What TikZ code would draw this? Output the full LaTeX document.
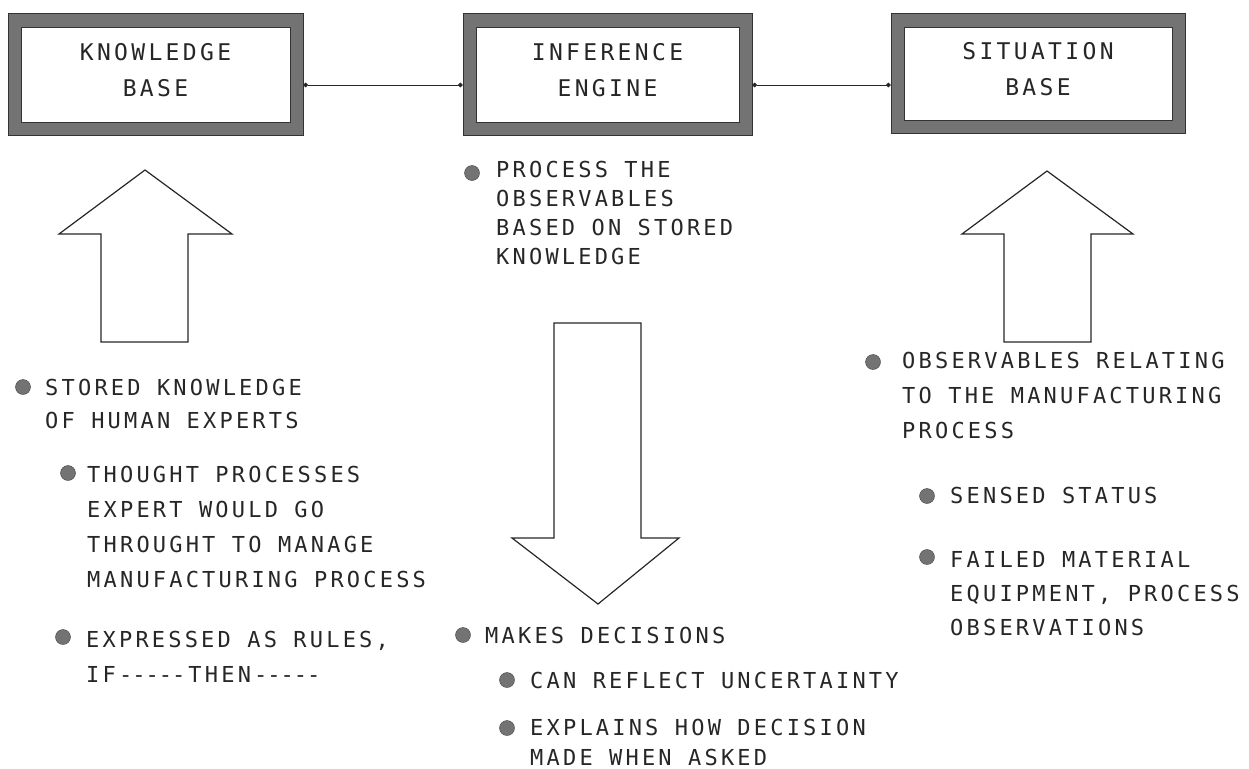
\documentclass[tikz,border=0pt]{standalone}
\usepackage{fontspec}
\newfontfamily\plotfont{DejaVu Sans Mono}[LetterSpace=14.5]
\usetikzlibrary{arrows.meta}

% several lines of plotter text, baselines #1 pt apart, first baseline at the node
\newcommand\textlines[2]{{\fontsize{22}{#1}\selectfont\begin{tabular}[t]{@{}l@{}}#2\end{tabular}}}
\newcommand\dashrun{-\kern0pt-\kern0pt-\kern0pt-\kern0pt-}

\tikzset{
  panel/.style={rectangle, inner sep=0pt, fill=black!55, draw=black!80, line width=0.8pt,
    align=center, text depth=8pt, text=black!85, font=\plotfont\fontsize{23}{36}\selectfont,
    path picture={\filldraw[fill=white, draw=black!80, line width=0.8pt]
      ([shift={(13pt,-14pt)}]path picture bounding box.north west) rectangle
      ([shift={(-13pt,13pt)}]path picture bounding box.south east);}},
  dot/.style={circle, inner sep=0pt, minimum size=15pt, fill=black!55, draw=black!75},
  txt/.style={anchor=base west, inner sep=0pt, text=black!85, font=\plotfont},
  link/.style={line width=0.8pt, black!85, {Circle[length=4.5pt]}-{Circle[length=4.5pt]}},
  blockarrow/.style={draw=black!85, line width=1.2pt, line join=miter}
}

\begin{document}
\begin{tikzpicture}[x=1pt, y=-1pt]
\useasboundingbox (0,0) rectangle (1249,768);

% the three units
\node[panel, minimum width=295pt, minimum height=122pt] (kb) at (155.5,74) {KNOWLEDGE\\BASE};
\node[panel, minimum width=289pt, minimum height=122pt] (ie) at (607.5,74) {INFERENCE\\ENGINE};
\node[panel, minimum width=294pt, minimum height=120pt] (sb) at (1038,73) {SITUATION\\BASE};

% links between the units
\draw[link] (kb.east |- 0,85) -- (ie.west |- 0,85);
\draw[link] (ie.east |- 0,85) -- (sb.west |- 0,85);

% block arrows
\draw[blockarrow] (145,170) -- (232,234) -- (188,234) -- (188,342) -- (101,342)
  -- (101,234) -- (59,234) -- cycle;
\draw[blockarrow] (1047,171) -- (1133,234) -- (1091,234) -- (1091,342) -- (1004,342)
  -- (1004,234) -- (962,234) -- cycle;
\draw[blockarrow] (554,323) -- (641,323) -- (641,538) -- (679,538) -- (598,604)
  -- (512,538) -- (554,538) -- cycle;

% inference engine notes
\node[dot] (d1) at (472,173) {};
\node[txt] (t1) at (496,177) {\textlines{29}{PROCESS THE\\OBSERVABLES\\BASED ON STORED\\KNOWLEDGE}};

% knowledge base notes
\node[dot] (d2) at (23,387) {};
\node[txt] (t2) at (45,395) {\textlines{33}{STORED KNOWLEDGE\\OF HUMAN EXPERTS}};
\node[dot] (d3) at (68,473) {};
\node[txt] (t3) at (87,482) {\textlines{35}{THOUGHT PROCESSES\\EXPERT WOULD GO\\THROUGHT TO MANAGE\\MANUFACTURING PROCESS}};
\node[dot] (d4) at (63,637) {};
\node[txt] (t4) at (86,647) {\textlines{35}{EXPRESSED AS RULES,\\IF\dashrun THEN\dashrun}};

% situation base notes
\node[dot] (d5) at (873,362) {};
\node[txt] (t5) at (902,368) {\textlines{35}{OBSERVABLES RELATING\\TO THE MANUFACTURING\\PROCESS}};
\node[dot] (d6) at (927,496) {};
\node[txt] (t6) at (950,503) {\textlines{34}{SENSED STATUS}};
\node[dot] (d7) at (927,557) {};
\node[txt] (t7) at (950,567) {\textlines{34}{FAILED MATERIAL\\EQUIPMENT, PROCESS\\OBSERVATIONS}};

% decision notes
\node[dot] (d8) at (463,635) {};
\node[txt] (t8) at (485,643) {\textlines{30}{MAKES DECISIONS}};
\node[dot] (d9) at (507,680) {};
\node[txt] (t9) at (530,688) {\textlines{30}{CAN REFLECT UNCERTAINTY}};
\node[dot] (d10) at (507,728) {};
\node[txt] (t10) at (530,735) {\textlines{30}{EXPLAINS HOW DECISION\\MADE WHEN ASKED}};
\end{tikzpicture}
\end{document}
